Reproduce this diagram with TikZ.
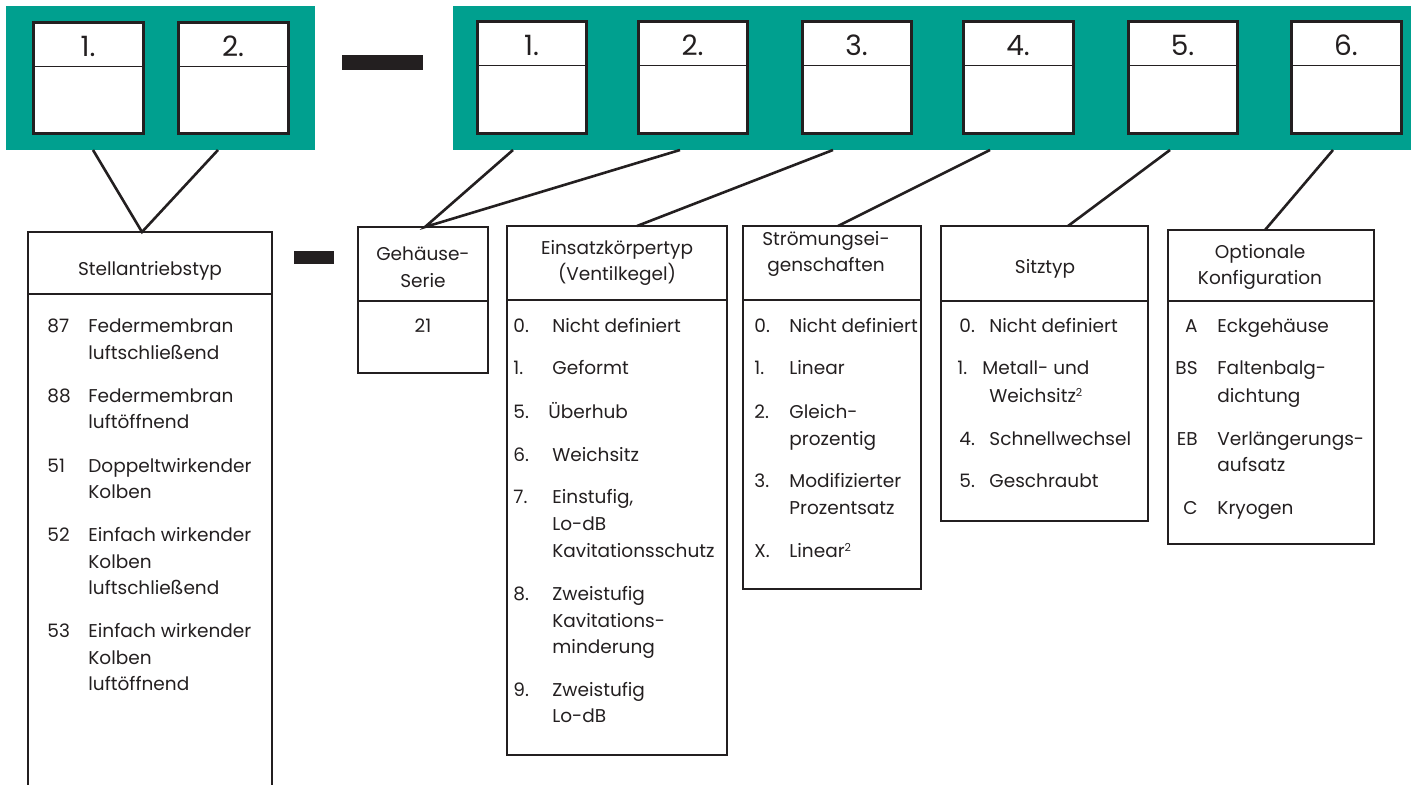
\documentclass[tikz,border=0pt]{standalone}
\usepackage{fontspec}
\setmainfont{Poppins}
\definecolor{teal1}{RGB}{0,160,143}
\definecolor{ink}{RGB}{35,31,32}
\newcommand\supr[1]{{\fontsize{5.5}{6}\selectfont\raisebox{0.85ex}{#1}}}
\begin{document}
\begin{tikzpicture}[x=0.5pt,y=-0.5pt,
  digitbox/.style={draw=ink,line width=1.5pt,fill=white},
  divline/.style={draw=ink,line width=0.5pt},
  digit/.style={anchor=base,inner sep=0pt,text=ink,font=\fontsize{14}{16}\selectfont},
  catbox/.style={draw=ink,line width=0.7pt},
  conn/.style={draw=ink,line width=1.3pt},
  bar/.style={fill=ink},
  ttl/.style={anchor=base,inner sep=0pt,text=ink,font=\fontsize{9.25}{11}\selectfont},
  num/.style={anchor=base west,inner sep=0pt,text=ink,font=\fontsize{9.25}{11}\selectfont},
  numr/.style={anchor=base east,inner sep=0pt,text=ink,font=\fontsize{9.25}{11}\selectfont},
  txt/.style={anchor=base west,inner sep=0pt,text=ink,font=\fontsize{9.25}{11}\selectfont}]
\useasboundingbox (0,0) rectangle (1416,785);
% green bands
\fill[teal1] (6,6) rectangle (315,150);
\fill[teal1] (453,6) rectangle (1411,150);
% digit boxes left
\foreach \xa/\xb/\d [count=\i] in {33/143/1.,178/288/2.}{
  \draw[digitbox] (\xa,23) rectangle (\xb,134);
  \draw[divline] (\xa,67) -- (\xb,67);
  \node[digit] (L\i) at ({(\xa+\xb)/2},57) {\d};
}
% digit boxes right
\foreach \xa/\xb/\d [count=\i] in {477/586/1.,638/747/2.,802/911/3.,963/1073/4.,1128/1237/5.,1291/1401/6.}{
  \draw[digitbox] (\xa,22) rectangle (\xb,134);
  \draw[divline] (\xa,66) -- (\xb,66);
  \node[digit] (R\i) at ({(\xa+\xb)/2},56) {\d};
}
% separator bars
\fill[bar] (342,55) rectangle (423,70);
\fill[bar] (294,251) rectangle (334,264);
% connector ends
\coordinate (bL1) at (93,150);
\coordinate (bL2) at (218,150);
\coordinate (bR1) at (513,150);
\coordinate (bR2) at (680,150);
\coordinate (bR3) at (833,150);
\coordinate (bR4) at (990,150);
\coordinate (bR5) at (1170,150);
\coordinate (bR6) at (1333,150);
\coordinate (tSt) at (142,232);
\coordinate (tGe) at (425,227);
\coordinate (tEi) at (637,226);
\coordinate (tSr) at (838,226);
\coordinate (tSi) at (1068,226);
\coordinate (tOp) at (1265,230);
\draw[conn] (bL1) -- (tSt) -- (bL2);
\draw[conn] (bR1) -- (tGe) -- (bR2);
\draw[conn] (bR3) -- (tEi);
\draw[conn] (bR4) -- (tSr);
\draw[conn] (bR5) -- (tSi);
\draw[conn] (bR6) -- (tOp);
% Stellantriebstyp box (open at bottom)
\draw[catbox] (28,785) -- (28,232) -- (272,232) -- (272,785);
\draw[catbox] (28,294) -- (272,294);
\node[ttl] (stT) at (150,276) {Stellantriebstyp};
\foreach \y/\n/\t [count=\i] in {327/87/Federmembran,354//luftschließend,396/88/Federmembran,423//luftöffnend,466/51/Doppeltwirkender,492//Kolben,535/52/Einfach wirkender,562//Kolben,588//luftschließend,631/53/Einfach wirkender,658//Kolben,684//luftöffnend}{
  \node[num] (stN\i) at (47,\y+6) {\n};
  \node[txt] (stL\i) at (88,\y+6) {\t};
}
% Gehaeuse-Serie
\draw[catbox] (358,227) rectangle (488,373);
\draw[catbox] (358,301) -- (488,301);
\node[ttl] (geT1) at (423,261) {Gehäuse-};
\node[ttl] (geT2) at (423,288) {Serie};
\node[ttl] (geV) at (423,333) {21};
% Einsatzkoerpertyp
\draw[catbox] (507,226) rectangle (727,755);
\draw[catbox] (507,300) -- (727,300);
\node[ttl] (eiT1) at (617,255) {Einsatzkörpertyp};
\node[ttl] (eiT2) at (617,281) {(Ventilkegel)};
\foreach \y/\n/\t [count=\i] in {327/0./Nicht definiert,369/1./Geformt,455/6./Weichsitz,497/7./{Einstufig,},524//Lo-dB/,551//Kavitationsschutz,594/8./Zweistufig,621//Kavitations-,647//minderung,690/9./Zweistufig,716//Lo-dB}{
  \node[num] (eiN\i) at (513,\y+6) {\n};
  \node[txt] (eiL\i) at (552,\y+6) {\t};
}
\node[num] (eiN5) at (513,418) {5.};
\node[txt] (eiL5) at (548,418) {Überhub};
% Stroemungseigenschaften
\draw[catbox] (743,226) rectangle (921,589);
\draw[catbox] (743,300) -- (921,300);
\node[ttl] (srT1) at (826,246) {Strömungsei-};
\node[ttl] (srT2) at (826,272) {genschaften};
\foreach \y/\n/\t [count=\i] in {327/0./Nicht definiert,369/1./Linear,412/2./Gleich-,439//prozentig,481/3./Modifizierter,508//Prozentsatz,551/X./Linear\supr{2}}{
  \node[num] (srN\i) at (754,\y+6) {\n};
  \node[txt] (srL\i) at (789,\y+6) {\t};
}
% Sitztyp
\draw[catbox] (941,226) rectangle (1148,521);
\draw[catbox] (941,301) -- (1148,301);
\node[ttl] (siT) at (1045,274) {Sitztyp};
\node[num] (siN1) at (959,333) {0.};
\node[txt] (siL1) at (989,333) {Nicht definiert};
\node[num] (siN2) at (957,375) {1.};
\node[txt] (siL2) at (982,375) {Metall- und};
\node[txt] (siL3) at (989,402) {Weichsitz\supr{2}};
\node[num] (siN4) at (959,445) {4.};
\node[txt] (siL4) at (989,445) {Schnellwechsel};
\node[num] (siN5) at (959,487) {5.};
\node[txt] (siL5) at (989,487) {Geschraubt};
% Optionale Konfiguration
\draw[catbox] (1168,230) rectangle (1374,544);
\draw[catbox] (1168,301) -- (1374,301);
\node[ttl] (opT1) at (1260,259) {Optionale};
\node[ttl] (opT2) at (1260,285) {Konfiguration};
\foreach \y/\n/\t [count=\i] in {327/A/Eckgehäuse,369/BS/Faltenbalg-,396//dichtung,439/EB/Verlängerungs-,465//aufsatz,508/C/Kryogen}{
  \node[numr] (opN\i) at (1198,\y+6) {\n};
  \node[txt] (opL\i) at (1217,\y+6) {\t};
}
\end{tikzpicture}
\end{document}
